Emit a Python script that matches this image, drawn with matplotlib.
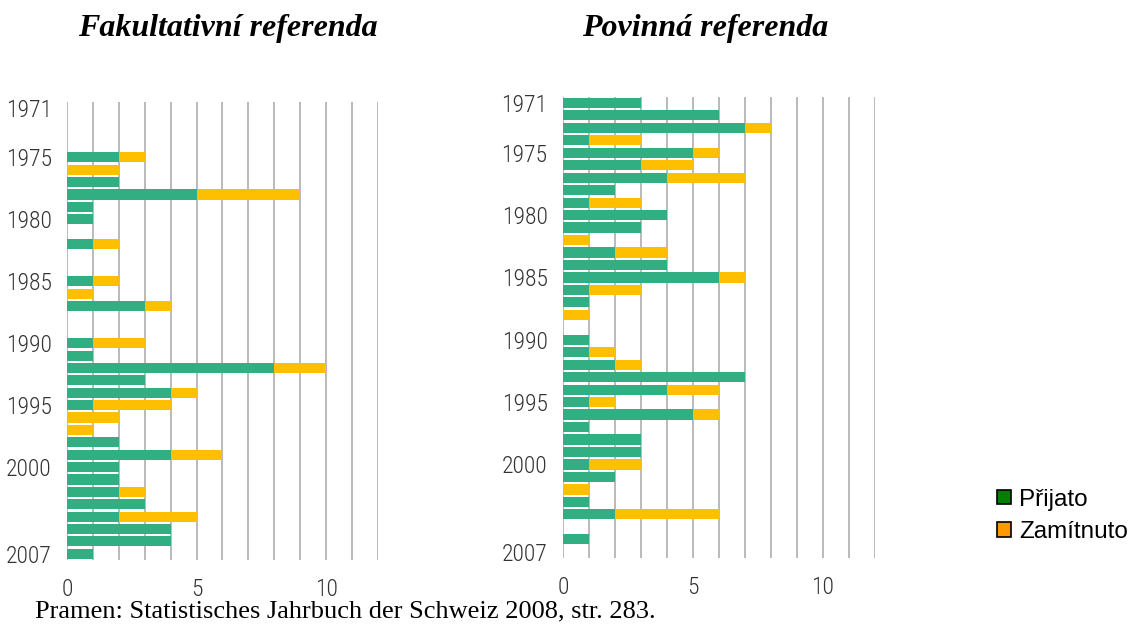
#!/usr/bin/env python3

# two stacked bar charts of swiss referenda per year, accepted vs rejected

import matplotlib.pyplot as plt
from matplotlib.patches import Patch

years = list(range(1971, 2008))
year_ticks = [1971, 1975, 1980, 1985, 1990, 1995, 2000, 2007]
count_ticks = [0, 5, 10]

# fakultativni referenda, 1971..2007
fak_prijato = [0, 0, 0, 0, 2, 0, 2, 5, 1, 1,
               0, 1, 0, 0, 1, 0, 3, 0, 0, 1,
               1, 8, 3, 4, 1, 0, 0, 2, 4, 2,
               2, 2, 3, 2, 4, 4, 1]
fak_zamitnuto = [0, 0, 0, 0, 1, 2, 0, 4, 0, 0,
                 0, 1, 0, 0, 1, 1, 1, 0, 0, 2,
                 0, 2, 0, 1, 3, 2, 1, 0, 2, 0,
                 0, 1, 0, 3, 0, 0, 0]

# povinna referenda, 1971..2007
pov_prijato = [3, 6, 7, 1, 5, 3, 4, 2, 1, 4,
               3, 0, 2, 4, 6, 1, 1, 0, 0, 1,
               1, 2, 7, 4, 1, 5, 1, 3, 3, 1,
               2, 0, 1, 2, 0, 1, 0]
pov_zamitnuto = [0, 0, 1, 2, 1, 2, 3, 0, 2, 0,
                 0, 1, 2, 0, 1, 2, 0, 1, 0, 0,
                 1, 1, 0, 2, 1, 1, 0, 0, 0, 2,
                 0, 1, 0, 4, 0, 0, 0]

GREEN = "#31ae82"
ORANGE = "#fdbf00"
GRID = "#b4b4b4"
TICK_FONT = ["Roboto Condensed", "DejaVu Sans"]


def draw_panel(ax, prijato, zamitnuto):
    ax.barh(years, prijato, height=0.82, color=GREEN, linewidth=0)
    ax.barh(years, zamitnuto, left=prijato, height=0.82, color=ORANGE, linewidth=0)

    ax.set_xlim(0, 12)
    ax.set_ylim(2007.5, 1970.5)
    ax.set_xticks(count_ticks)
    ax.set_xticks(range(0, 13), minor=True)
    ax.set_yticks(year_ticks)
    ax.grid(axis="x", which="both", color=GRID, linewidth=1.3)
    ax.set_axisbelow(True)
    for s in ax.spines.values():
        s.set_visible(False)
    ax.tick_params(which="both", length=0)
    ax.tick_params(axis="y", pad=11)
    ax.tick_params(axis="x", pad=13)
    for lab in ax.get_xticklabels() + ax.get_yticklabels():
        lab.set_family(TICK_FONT)
        lab.set_fontweight("light")
        lab.set_fontsize(17)
        lab.set_color("#333333")


def main():
    fig = plt.figure(figsize=(11.32, 6.24), dpi=100)
    ax1 = fig.add_axes([0.0592, 0.1026, 0.2747, 0.7345])
    ax2 = fig.add_axes([0.4973, 0.1058, 0.2756, 0.7393])

    draw_panel(ax1, fak_prijato, fak_zamitnuto)
    draw_panel(ax2, pov_prijato, pov_zamitnuto)

    title_kw = dict(fontsize=23, fontweight="bold", style="italic",
                    family="Liberation Serif", ha="center", va="center")
    fig.text(0.2015, 0.955, "Fakultativní referenda", **title_kw)
    fig.text(0.623, 0.955, "Povinná referenda", **title_kw)

    handles = [Patch(facecolor="#008000", edgecolor="black", linewidth=1.2),
               Patch(facecolor="#ff9900", edgecolor="black", linewidth=1.2)]
    fig.legend(handles, ["Přijato", "Zamítnuto"], loc="upper left",
               bbox_to_anchor=(0.881, 0.217), frameon=False,
               prop={"family": "Liberation Sans", "size": 17.5},
               handlelength=0.55, handleheight=0.55, handletextpad=0.35,
               labelspacing=0.42, borderpad=0, borderaxespad=0)

    fig.text(0.031, 0.01, "Pramen: Statistisches Jahrbuch der Schweiz 2008, str. 283.",
             family="Liberation Serif", fontsize=19, ha="left", va="baseline")

    fig.savefig("out.png", dpi=100)


if __name__ == "__main__":
    main()
